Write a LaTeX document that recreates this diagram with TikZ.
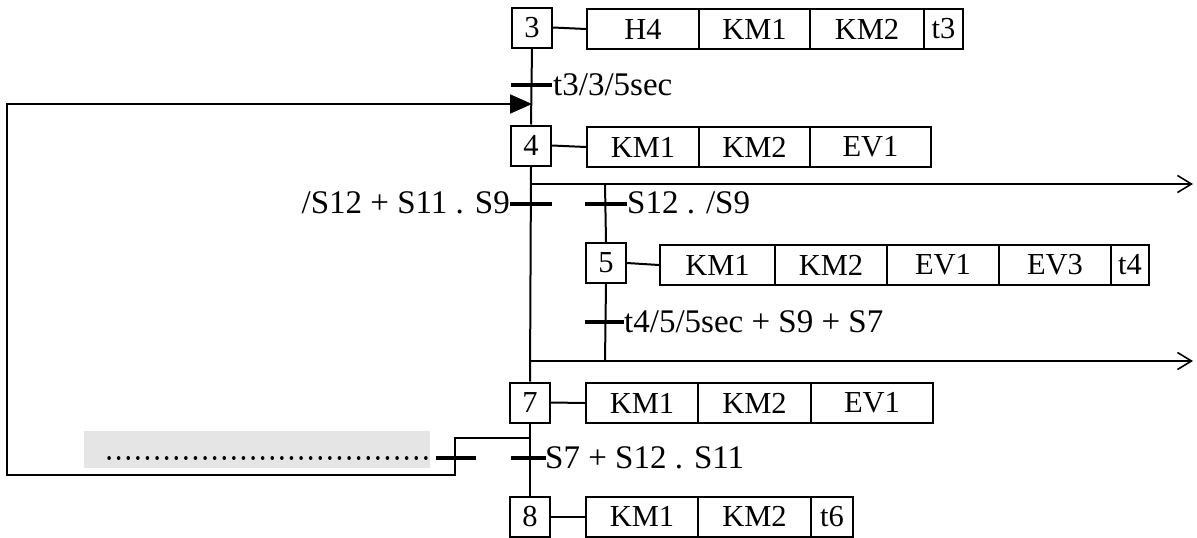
\documentclass[tikz,border=0pt]{standalone}
\usepackage{fontspec}
\setmainfont{Liberation Serif}
\usetikzlibrary{arrows.meta}
\newcommand\mylblfont{\fontsize{33}{36}\selectfont}
\tikzset{
  stepbox/.style={draw, line width=2pt, minimum width=40pt, minimum height=40pt, inner sep=0pt},
  cell/.style={draw, line width=2pt, minimum height=40pt, inner sep=0pt},
  wire/.style={line width=2pt},
  bar/.style={line width=4.5pt},
  lbl/.style={inner sep=1pt, font=\mylblfont},
  outarrow/.style={wire, -{Straight Barb[length=14pt,width=17pt,line width=1.6pt]}},
  inarrow/.style={wire, -{Triangle[length=22pt,width=19pt]}},
}
\begin{document}
\begin{tikzpicture}[x=1pt,y=-1pt, font=\fontsize{30.5}{33}\selectfont]
\useasboundingbox (0,0) rectangle (1197,538);
% shaded band
\fill[black!10] (84,431) rectangle (430,468);
% steps
\node[stepbox] (s3) at (532,27.5) {3};
\node[stepbox] (s4) at (531,145.5) {4};
\node[stepbox] (s5) at (606,263) {5};
\node[stepbox] (s7) at (530,402.5) {7};
\node[stepbox] (s8) at (530,516.5) {8};
% actions step 3
\node[cell, minimum width=112pt] (a3a) at (643,29) {H4};
\node[cell, minimum width=111pt] (a3b) at (754.5,29) {KM1};
\node[cell, minimum width=114pt] (a3c) at (867,29) {KM2};
\node[cell, minimum width=39pt]  (a3d) at (943.5,29) {t3};
% actions step 4
\node[cell, minimum width=112pt] (a4a) at (643,147) {KM1};
\node[cell, minimum width=111pt] (a4b) at (754.5,147) {KM2};
\node[cell, minimum width=121pt] (a4c) at (870.5,147) {EV1};
% actions step 5
\node[cell, minimum width=115pt] (a5a) at (717.5,265) {KM1};
\node[cell, minimum width=112pt] (a5b) at (831,265) {KM2};
\node[cell, minimum width=112pt] (a5c) at (943,265) {EV1};
\node[cell, minimum width=112pt] (a5d) at (1055,265) {EV3};
\node[cell, minimum width=38pt]  (a5e) at (1130,265) {t4};
% actions step 7
\node[cell, minimum width=112pt] (a7a) at (642,403) {KM1};
\node[cell, minimum width=113pt] (a7b) at (754.5,403) {KM2};
\node[cell, minimum width=122pt] (a7c) at (872,403) {EV1};
% actions step 8
\node[cell, minimum width=112pt] (a8a) at (642,516.5) {KM1};
\node[cell, minimum width=113pt] (a8b) at (754.5,516.5) {KM2};
\node[cell, minimum width=42pt]  (a8c) at (832,516.5) {t6};
% action links
\draw[wire] (s3.east) -- (a3a.west);
\draw[wire] (s4.east) -- (a4a.west);
\draw[wire] (s5.east) -- (a5a.west);
\draw[wire] (s7.east) -- (a7a.west);
\draw[wire] (s8.east) -- (a8a.west);
% coordinates
\coordinate (join) at (531,104);
\coordinate (div1) at (531,184);
\coordinate (br1) at (605,184);
\coordinate (out1) at (1193,184);
\coordinate (div2) at (531,361);
\coordinate (br2) at (605,361);
\coordinate (out2) at (1193,361);
\coordinate (lp0) at (531,438);
\coordinate (lp1) at (455,438);
\coordinate (lp2) at (455,475);
\coordinate (lp3) at (7,475);
\coordinate (lp4) at (7,104);
% main line
\draw[wire] (s3.south) -- (s4.north);
\draw[wire] (s4.south) -- (s7.north);
\draw[wire] (s7.south) -- (s8.north);
% branch
\draw[outarrow] (div1) -- (out1);
\draw[outarrow] (div2) -- (out2);
\draw[wire] (br1) -- (s5.north);
\draw[wire] (s5.south) -- (br2);
% loop back
\draw[wire] (lp0) -- (lp1) -- (lp2) -- (lp3) -- (lp4) -- ([xshift=-1pt]join);
\draw[inarrow] (lp4) -- ([xshift=1pt]join);
% transitions
\draw[bar] (511,85) -- (552,85);
\node[lbl, anchor=base west] (c1) at (552,95) {t3/3/5sec};
\draw[bar] (510,204) -- (552,204);
\node[lbl, anchor=base east] (c2) at (511,213) {/S12 + S11 . S9};
\draw[bar] (585,204) -- (627,204);
\node[lbl, anchor=base west] (c3) at (626,213) {S12 . /S9};
\draw[bar] (585,322) -- (624,322);
\node[lbl, anchor=base west] (c4) at (623,332) {t4/5/5sec + S9 + S7};
\draw[bar] (511,458) -- (546,458);
\node[lbl, anchor=base west] (c5) at (544,468) {S7 + S12 . S11};
\draw[bar] (436,458) -- (476,458);
% dotted line
\draw[line width=3.5pt, line cap=round, dash pattern=on 0.1pt off 9.5pt] (109,458) -- (430,458);
\end{tikzpicture}
\end{document}
